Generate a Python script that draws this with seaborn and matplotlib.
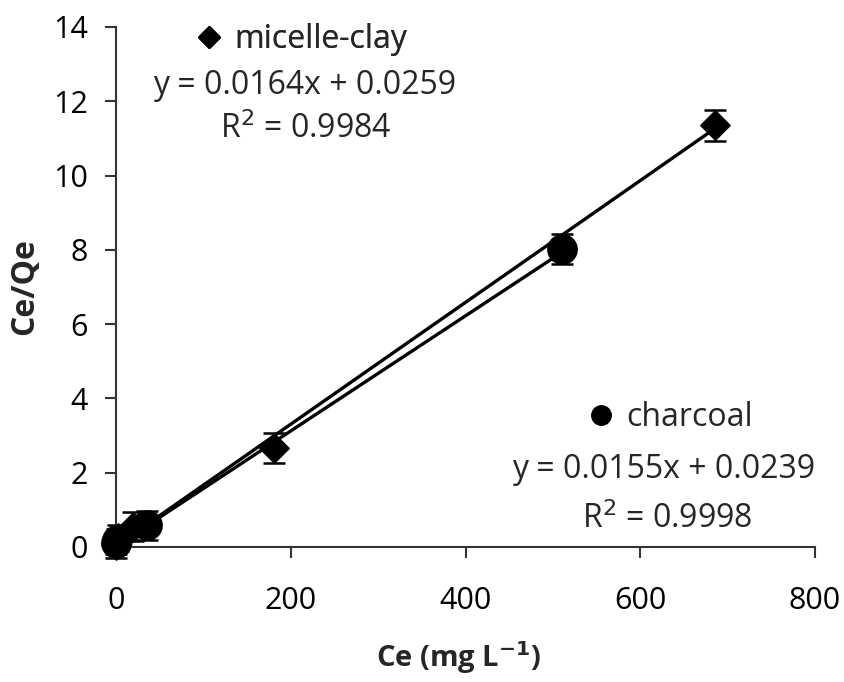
import matplotlib
matplotlib.use("Agg")
import matplotlib.pyplot as plt
import numpy as np
import pandas as pd
import seaborn as sns
from matplotlib.lines import Line2D

# data
clay_ce = [0.3, 2.0, 20.0, 181.0, 685.0]
clay_ratio = [0.05, 0.25, 0.55, 2.66, 11.35]
clay_err = [0.35, 0.35, 0.40, 0.41, 0.42]

char_ce = [0.2, 1.5, 36.0, 511.0]
char_ratio = [0.10, 0.18, 0.58, 8.03]
char_err = [0.30, 0.30, 0.40, 0.40]

# linear fits (slope, intercept) from the chart labels
clay_fit = (0.0164, 0.0259)
char_fit = (0.0155, 0.0239)

x_ticks = [0, 200, 400, 600, 800]
y_ticks = [0, 2, 4, 6, 8, 10, 12, 14]

sns.set_theme(style="white")
plt.rcParams["font.family"] = ["Open Sans", "DejaVu Sans"]

W, H = 844, 682
fig = plt.figure(figsize=(W / 100, H / 100), dpi=100)
ax = fig.add_axes([116 / W, 1 - 547 / H, (815 - 116) / W, (547 - 27) / H])

# fit lines
for ce, fit in [(clay_ce, clay_fit), (char_ce, char_fit)]:
    xs = np.array([0.0, max(ce)])
    line_df = pd.DataFrame({"x": xs, "y": fit[0] * xs + fit[1]})
    sns.lineplot(data=line_df, x="x", y="y", ax=ax, color="black", linewidth=2.4)

# error bars (not clipped, the points near zero spill over the axes)
for ce, r, err in [(clay_ce, clay_ratio, clay_err), (char_ce, char_ratio, char_err)]:
    eb = ax.errorbar(ce, r, yerr=err, fmt="none", ecolor="black",
                     elinewidth=1.8, capsize=8, capthick=1.8)
    for art in eb.lines[1] + eb.lines[2]:
        art.set_clip_on(False)

# markers
df_clay = pd.DataFrame({"ce": clay_ce, "r": clay_ratio})
df_char = pd.DataFrame({"ce": char_ce, "r": char_ratio})
sns.scatterplot(data=df_clay, x="ce", y="r", ax=ax, marker="D", s=220,
                color="black", edgecolor="black", zorder=4, clip_on=False)
sns.scatterplot(data=df_char, x="ce", y="r", ax=ax, marker="o", s=420,
                color="black", edgecolor="black", zorder=4, clip_on=False)

ax.set_xlim(0, 800)
ax.set_ylim(0, 14)
ax.set_xticks(x_ticks)
ax.set_yticks(y_ticks)
ax.set_xticklabels([str(t) for t in x_ticks])
ax.set_yticklabels([str(t) for t in y_ticks])
ax.tick_params(axis="both", which="major", direction="out", length=8, width=1.5,
               color="#333333", labelsize=22, labelcolor="black", left=True,
               bottom=True)
ax.tick_params(axis="x", pad=20)
ax.tick_params(axis="y", pad=12)
for side in ["top", "right"]:
    ax.spines[side].set_visible(False)
for side in ["left", "bottom"]:
    ax.spines[side].set_color("#333333")
    ax.spines[side].set_linewidth(1.5)

ax.set_xlabel("Ce (mg L$^{\\mathbf{-1}}$)", fontsize=21, fontweight="bold",
              va="center")
ax.set_ylabel("Ce/Qe", fontsize=23, fontweight="bold", va="center")
ax.xaxis.set_label_coords(0.49, -0.213)
ax.yaxis.set_label_coords(-0.131, 0.5)

# series keys
h_clay = Line2D([], [], marker="D", color="black", linestyle="none", markersize=11)
h_char = Line2D([], [], marker="o", color="black", linestyle="none", markersize=14)
leg1 = fig.legend([h_clay], ["micelle-clay"], loc="center left",
                  bbox_to_anchor=(196 / W, 1 - 40 / H), frameon=False,
                  fontsize=23, handlelength=0.8, handletextpad=0.4,
                  borderpad=0, borderaxespad=0)
fig.legend([h_char], ["charcoal"], loc="center left",
           bbox_to_anchor=(588 / W, 1 - 418 / H), frameon=False,
           fontsize=23, handlelength=0.8, handletextpad=0.4,
           borderpad=0, borderaxespad=0)
fig.add_artist(leg1)

fig.text(305 / W, 1 - 85 / H, f"y = {clay_fit[0]:.4f}x + {clay_fit[1]:.4f}",
         ha="center", va="center", fontsize=23)
fig.text(306 / W, 1 - 130 / H, "R$^{2}$ = 0.9984", ha="center", va="center",
         fontsize=23)
fig.text(664 / W, 1 - 470 / H, f"y = {char_fit[0]:.4f}x + {char_fit[1]:.4f}",
         ha="center", va="center", fontsize=23)
fig.text(667 / W, 1 - 520 / H, "R$^{2}$ = 0.9998", ha="center", va="center",
         fontsize=23)

fig.savefig("out.png", dpi=100)
